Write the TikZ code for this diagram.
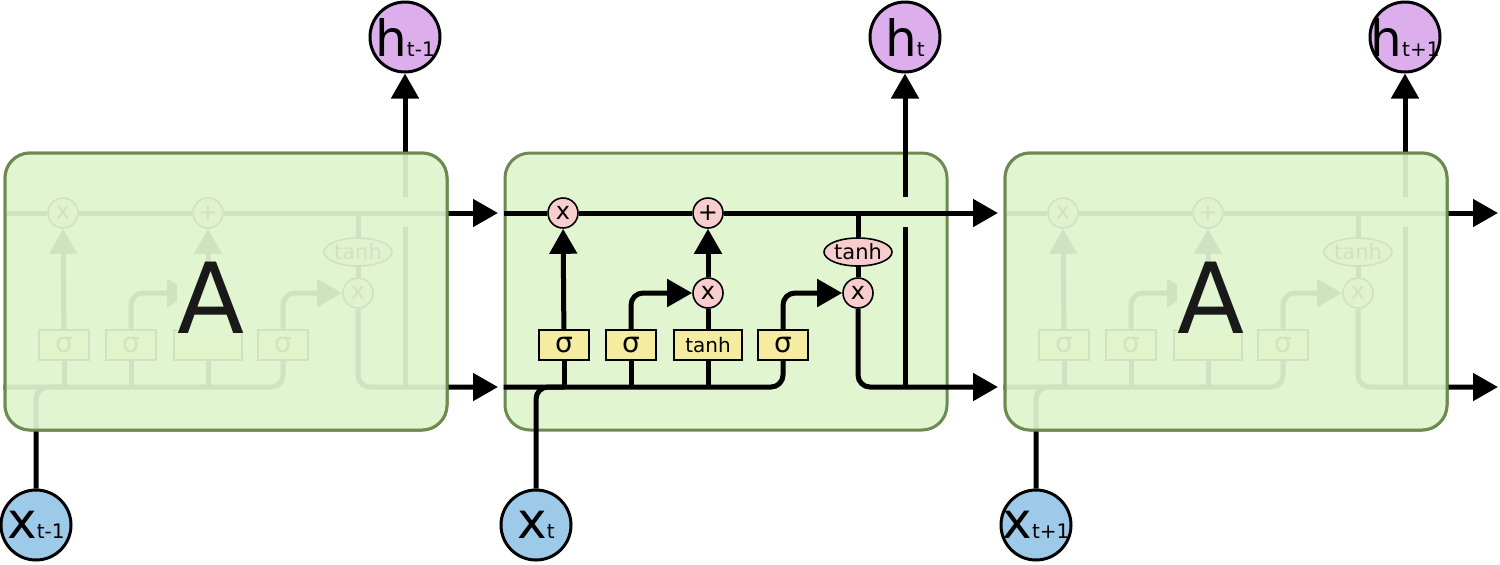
\documentclass[tikz,border=0pt]{standalone}
\usepackage{fontspec}
\setmainfont{DejaVu Sans}
\usetikzlibrary{arrows.meta,shapes.geometric}
\tikzset{>={Triangle[length=12.5pt,width=13.5pt]}}
\definecolor{cellfill}{RGB}{224,245,208}
\definecolor{celledge}{RGB}{108,138,82}
\definecolor{oppink}{RGB}{248,205,205}
\definecolor{layeryellow}{RGB}{246,236,160}
\definecolor{hpurple}{RGB}{220,175,236}
\definecolor{xblue}{RGB}{158,202,234}
\newcommand{\idx}[1]{{\fontsize{10}{10}\selectfont #1}}

\begin{document}
\begin{tikzpicture}[x=0.5pt, y=-0.5pt,
  cellbox/.style={rectangle, draw=celledge, line width=1.5pt, fill=cellfill, rounded corners=12.5pt, minimum width=221pt, minimum height=138.5pt},
  wire/.style={line width=2.5pt, black},
  op/.style={circle, draw, line width=0.8pt, fill=oppink, inner sep=0pt, minimum size=15pt, font=\fontsize{12}{12}\selectfont},
  tanhop/.style={ellipse, draw, line width=0.8pt, fill=oppink, inner sep=0pt, minimum width=34pt, minimum height=14pt, font=\fontsize{10.5}{10.5}\selectfont},
  layer/.style={rectangle, draw, line width=0.8pt, fill=layeryellow, inner sep=0pt, minimum width=25pt, minimum height=15pt, font=\fontsize{14}{14}\selectfont},
  state/.style={circle, draw, line width=1.5pt, inner sep=0pt, minimum size=35pt, font=\fontsize{25}{25}\selectfont}]
\useasboundingbox (0,0) rectangle (1500,564);

\foreach \i/\t/\fade in {0/t-1/1, 1/t/0, 2/t+1/1}{
\begin{scope}[shift={(500*\i,0)}, name prefix=c\i-]
  \node[cellbox] (box) at (226,291.5) {};
  % pointwise ops
  \node[op] (fx) at (63,213) {x};
  \node[op] (add) at (208,213) {+};
  \node[op] (ix) at (208,293) {\ifnum\fade=0 x\fi};
  \node[op] (ox) at (358,293) {x};
  \node[tanhop] (ct) at (358,252) {tanh};
  % layers
  \node[layer] (sf) at (64,345) {σ};
  \node[layer] (si) at (131,345) {σ};
  \node[layer, minimum width=34pt, font=\fontsize{10}{10}\selectfont] (sg) at (208,345) {\ifnum\fade=0 tanh\fi};
  \node[layer] (so) at (283,345) {σ};
  % in and out
  \node[state, fill=hpurple] (h) at (405,37) {\makebox[0pt]{h\idx{\t}}};
  \node[state, fill=xblue] (x) at (36,525) {\makebox[0pt]{x\idx{\t}}};
  \coordinate (cout) at (498,213);
  \coordinate (hout) at (498,387);

  \draw[wire] (box.west |- fx) -- (fx);
  \draw[wire] (fx) -- (add);
  \draw[wire,->] (add) -- (cout);
  \draw[wire] (ct |- add) -- (ct);
  \draw[wire] (ct) -- (ox);
  \draw[wire,->,rounded corners=6pt] (ox) -- (ox |- hout) -- (hout);
  \draw[wire] (h |- hout) -- (h |- 0,227);
  \draw[wire,->] (h |- 0,197) -- (h);
  \draw[wire,rounded corners=6pt] (box.west |- hout) -- (so |- hout) -- (so);
  \draw[wire,rounded corners=6pt] (x) -- (x |- hout) -- (sf |- hout);
  \draw[wire] (sf |- hout) -- (sf);
  \draw[wire,->] (sf) -- (fx);
  \draw[wire] (si |- hout) -- (si);
  \draw[wire,->,rounded corners=6pt] (si) -- (si |- ix) -- (ix);
  \draw[wire] (sg |- hout) -- (sg);
  \draw[wire] (sg) -- (ix);
  \draw[wire,->] (ix) -- (add);
  \draw[wire,->,rounded corners=6pt] (so) -- (so |- ox) -- (ox);

  \ifnum\fade=1
    \node[cellbox, fill opacity=0.93] (veil) at (box.center) {};
    \node[fill=cellfill, inner sep=0pt, text=black!90, font=\fontsize{49}{49}\selectfont] (A) at (211,298) {A};
  \fi
\end{scope}
}
\end{tikzpicture}
\end{document}
